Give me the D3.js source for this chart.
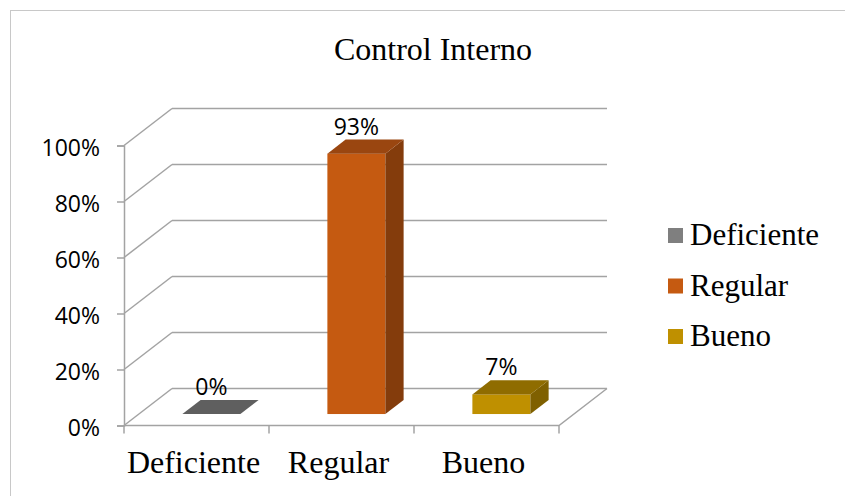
<!DOCTYPE html>
<html>
<head>
<meta charset="utf-8">
<script src="https://cdn.jsdelivr.net/npm/d3@7"></script>
<style>
  body { margin: 0; background: #fff; }
  svg { display: block; }
</style>
</head>
<body>
<svg></svg>
<script>
const width = 845;
const height = 496;

const categories = ['Deficiente', 'Regular', 'Bueno'];
const values = [0, 0.93, 0.07];
const labels = ['0%', '93%', '7%'];
const yTicks = [0, 0.2, 0.4, 0.6, 0.8, 1];
const colors = {
  front: ['#7f7f7f', '#c55a11', '#bf9000'],
  top: ['#5f5f5f', '#9a4610', '#8f6c00'],
  side: ['#4f4f4f', '#843c0c', '#7f6000']
};

// back wall offset (3d depth)
const depthX = 48;
const depthY = -37;

const svg = d3.select('svg')
  .attr('width', width)
  .attr('height', height);

// chart frame
svg.append('rect')
  .attr('x', 10.5)
  .attr('y', 10.5)
  .attr('width', 900)
  .attr('height', 600)
  .attr('fill', 'none')
  .attr('stroke', '#c8c8c8');

const x = d3.scaleBand()
  .domain(categories)
  .range([124, 559])
  .paddingInner(0.6)
  .paddingOuter(0.3);

const y = d3.scaleLinear()
  .domain([0, 1])
  .range([425.5, 145.5]);

const dx = d3.scaleLinear().domain([0, 1]).range([0, depthX]);
const dy = d3.scaleLinear().domain([0, 1]).range([0, depthY]);

const grid = svg.append('g')
  .attr('fill', 'none')
  .attr('stroke', '#a3a3a3')
  .attr('stroke-width', 1.5);

// back wall lines
grid.selectAll('.back')
  .data(yTicks)
  .enter()
  .append('line')
    .attr('x1', 124 + dx(1))
    .attr('x2', 559 + dx(1))
    .attr('y1', d => y(d) + dy(1))
    .attr('y2', d => y(d) + dy(1));

// side wall lines
grid.selectAll('.side')
  .data(yTicks)
  .enter()
  .append('line')
    .attr('x1', 124)
    .attr('x2', 124 + dx(1))
    .attr('y1', d => y(d))
    .attr('y2', d => y(d) + dy(1));

// floor front and right edges
grid.append('path')
  .attr('d', `M124,${y(0)}L559,${y(0)}L${559 + dx(1)},${y(0) + dy(1)}`);

// y axis
const yAxis = svg.append('g')
  .attr('transform', 'translate(124,0)')
  .call(d3.axisLeft(y)
    .tickValues(yTicks)
    .tickFormat(d3.format('.0%'))
    .tickSize(7)
    .tickPadding(17));

yAxis.selectAll('path, line')
  .attr('stroke', '#a3a3a3')
  .attr('stroke-width', 1.5);
yAxis.selectAll('text')
  .attr('font-family', '"Open Sans", sans-serif')
  .attr('font-size', 23)
  .attr('fill', '#000')
  .attr('dy', '0.45em');

// x axis: category boundary ticks
const bounds = [124].concat(categories.map(c => x(c) + x.bandwidth() / 2 + x.step() / 2));
svg.append('g')
  .selectAll('line')
  .data(bounds)
  .enter()
  .append('line')
    .attr('x1', d => d)
    .attr('x2', d => d)
    .attr('y1', y(0))
    .attr('y2', y(0) + 8)
    .attr('stroke', '#a3a3a3')
    .attr('stroke-width', 1.5);

const xAxis = svg.append('g')
  .attr('transform', `translate(0,${y(0)})`)
  .call(d3.axisBottom(x).tickSize(0).tickPadding(25));
xAxis.select('.domain').remove();
xAxis.selectAll('text')
  .attr('font-family', '"Liberation Serif", "Times New Roman", serif')
  .attr('font-size', 32)
  .attr('fill', '#000')
  .attr('dx', -3);

// bars
const front = 0.31;
const back = 0.69;
const bars = svg.append('g');

categories.forEach((c, i) => {
  const x0 = x(c) + dx(front);
  const x1 = x0 + x.bandwidth();
  const yb = y(0) + dy(front);
  const yt = y(values[i]) + dy(front);
  const ox = dx(back) - dx(front);
  const oy = dy(back) - dy(front);
  const g = bars.append('g');

  if (values[i] > 0) {
    g.append('rect')
      .attr('x', x0)
      .attr('y', yt)
      .attr('width', x1 - x0)
      .attr('height', yb - yt)
      .attr('fill', colors.front[i]);
    g.append('path')
      .attr('d', `M${x1},${yt}L${x1 + ox},${yt + oy}L${x1 + ox},${yb + oy}L${x1},${yb}Z`)
      .attr('fill', colors.side[i]);
  }
  g.append('path')
    .attr('d', `M${x0},${yt}L${x1},${yt}L${x1 + ox},${yt + oy}L${x0 + ox},${yt + oy}Z`)
    .attr('fill', colors.top[i]);

  g.append('text')
    .attr('x', (x0 + x1) / 2)
    .attr('y', yt + oy - 5)
    .attr('text-anchor', 'middle')
    .attr('font-family', '"Open Sans", sans-serif')
    .attr('font-size', 23)
    .text(labels[i]);
});

// title
svg.append('text')
  .attr('x', 433)
  .attr('y', 60)
  .attr('text-anchor', 'middle')
  .attr('font-family', '"Liberation Serif", "Times New Roman", serif')
  .attr('font-size', 32)
  .text('Control Interno');

// legend
const legend = svg.append('g')
  .selectAll('g')
  .data(categories)
  .enter()
  .append('g')
    .attr('transform', (d, i) => `translate(668,${228 + i * 50.5})`);

legend.append('rect')
  .attr('width', 15)
  .attr('height', 15)
  .attr('fill', (d, i) => colors.front[i]);

legend.append('text')
  .attr('x', 22)
  .attr('y', 17)
  .attr('font-family', '"Liberation Serif", "Times New Roman", serif')
  .attr('font-size', 31)
  .text(d => d);
</script>
</body>
</html>
